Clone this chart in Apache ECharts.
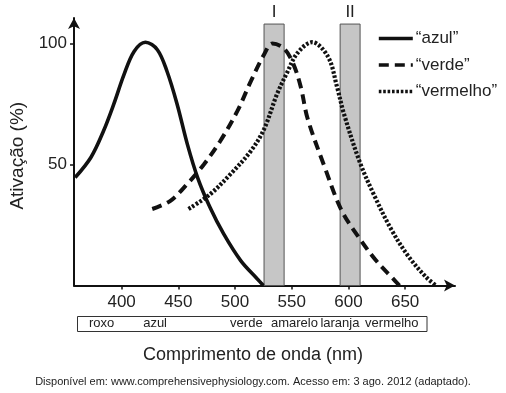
<!DOCTYPE html>
<html>
<head>
<meta charset="utf-8">
<script src="https://cdn.jsdelivr.net/npm/echarts@6/dist/echarts.min.js"></script>
<style>html,body{margin:0;padding:0;background:#fff}#c{width:506px;height:393px}</style>
</head>
<body>
<div id="c"></div>
<script>
// ---- data ----
const azulNm  = [359, 373, 384, 393, 402, 411, 421, 431.5, 440, 449, 458, 467, 478, 490, 505, 519.5, 525];
const azulVal = [44.6, 53, 63.8, 74.8, 87, 96.7, 100.5, 97.4, 88.5, 74.8, 58.3, 44.6, 32.2, 21.3, 10.3, 2.8, 0];
const verdeNm  = [427, 443, 458, 472.5, 487, 502, 514, 525.5, 533, 543, 551, 558, 564, 579, 594, 609, 624, 639, 645];
const verdeVal = [31.6, 35, 42, 50, 59.7, 72, 84.4, 95.3, 100, 98, 92, 82, 69, 49, 31, 20, 10.5, 3, 0];
const vermNm  = [459, 478, 496, 514, 525.5, 537, 546, 555, 568, 582, 590, 596, 610, 623, 638, 653, 668, 677];
const vermVal = [31.6, 37.7, 46, 55.6, 64.5, 79, 88, 96, 100.5, 94.5, 82, 71, 51, 37, 23, 12, 3.7, 0];
const seriesNames = ['\u201Cazul\u201D', '\u201Cverde\u201D', '\u201Cvermelho\u201D'];
const xTicks = [400, 450, 500, 550, 600, 650];
const yTicks = [50, 100];
const barNames = ['I', 'II'];
const barStart = [525.6, 592.7];
const barEnd = [543.3, 610.3];
const barTop = 108;
const bandNames = ['roxo', 'azul', 'verde', 'amarelo', 'laranja', 'vermelho'];
const bandPos = [382.4, 429.5, 510, 552.4, 592.5, 638.3];
const xTitle = 'Comprimento de onda (nm)';
const yTitle = 'Ativação (%)';
const caption = 'Disponível em: www.comprehensivephysiology.com. Acesso em: 3 ago. 2012 (adaptado).';

const zip = (a, b) => a.map((v, i) => [v, b[i]]);
const FONT = 'Liberation Sans, Arial, sans-serif';
const TXT = '#222';

const chart = echarts.init(document.getElementById('c'), null, {renderer: 'canvas'});
chart.setOption({
  animation: false,
  backgroundColor: '#fff',
  textStyle: {fontFamily: FONT, color: TXT},
  title: [
    {text: xTitle, left: 'center', top: 341, textStyle: {fontFamily: FONT, fontSize: 18, fontWeight: 'normal', color: TXT}},
    {text: caption, left: 'center', top: 371, textStyle: {fontFamily: FONT, fontSize: 11, fontWeight: 'normal', color: TXT}}
  ],
  legend: {
    data: seriesNames,
    orient: 'vertical',
    left: 372, top: 25,
    itemWidth: 34, itemHeight: 14, itemGap: 9.5,
    itemStyle: {opacity: 0},
    lineStyle: {width: 3.6},
    textStyle: {fontFamily: FONT, fontSize: 17, color: TXT, padding: [0, 0, 0, -2]}
  },
  graphic: [
    {type: 'rect', shape: {x: 77.5, y: 316.5, width: 349.5, height: 15}, style: {fill: 'none', stroke: '#333', lineWidth: 1}, z: 10}
  ],
  grid: {left: 74, right: 51, top: 18, bottom: 107.5},
  xAxis: [{
    type: 'value', min: 358, max: 694,
    splitLine: {show: false},
    axisLine: {lineStyle: {color: '#111', width: 2}, symbol: ['none', 'arrow'], symbolSize: [9, 11]},
    axisTick: {customValues: xTicks, length: 4, lineStyle: {color: '#111', width: 1.5}},
    axisLabel: {customValues: xTicks, fontSize: 17, color: TXT, margin: 8, fontFamily: FONT}
  }, {
    type: 'value', min: 358, max: 694, position: 'bottom', offset: 31,
    splitLine: {show: false}, axisLine: {show: false}, axisTick: {show: false},
    axisLabel: {customValues: bandPos, margin: 0, fontSize: 13, color: TXT, fontFamily: FONT,
      formatter: v => bandNames[bandPos.indexOf(v)] || ''}
  }],
  yAxis: {
    type: 'value', min: 0, max: 110.5,
    name: yTitle, nameLocation: 'middle', nameGap: 46, nameRotate: 90,
    nameTextStyle: {fontSize: 19, color: TXT, fontFamily: FONT, padding: [0, 0, 0, -8]},
    splitLine: {show: false},
    axisLine: {lineStyle: {color: '#111', width: 2}, symbol: ['none', 'arrow'], symbolSize: [9, 11]},
    axisTick: {customValues: yTicks, length: 4, lineStyle: {color: '#111', width: 1.5}},
    axisLabel: {customValues: yTicks, fontSize: 17, color: TXT, margin: 7, fontFamily: FONT}
  },
  series: [
    {
      name: 'bars', type: 'line', data: [], silent: true,
      markArea: {
        silent: true,
        itemStyle: {color: '#c6c6c6', borderColor: '#555', borderWidth: 1},
        label: {show: true, position: 'top', distance: 3, fontSize: 17, color: TXT, fontFamily: FONT},
        data: barNames.map((n, i) => [{name: n, xAxis: barStart[i], yAxis: 0}, {xAxis: barEnd[i], yAxis: barTop}])
      },
      z: 1
    },
    {
      name: seriesNames[0], type: 'line', data: zip(azulNm, azulVal), smooth: 0.35,
      symbol: 'none', lineStyle: {color: '#111', width: 3.6, type: 'solid'}, itemStyle: {color: '#111'}, z: 3
    },
    {
      name: seriesNames[1], type: 'line', data: zip(verdeNm, verdeVal), smooth: 0.35,
      symbol: 'none', lineStyle: {color: '#111', width: 4, type: [10, 6]}, itemStyle: {color: '#111'}, z: 3
    },
    {
      name: seriesNames[2], type: 'line', data: zip(vermNm, vermVal), smooth: 0.35,
      symbol: 'none', lineStyle: {color: '#111', width: 4.2, type: [2.6, 1.8]}, itemStyle: {color: '#111'}, z: 3
    }
  ]
});
</script>
</body>
</html>
